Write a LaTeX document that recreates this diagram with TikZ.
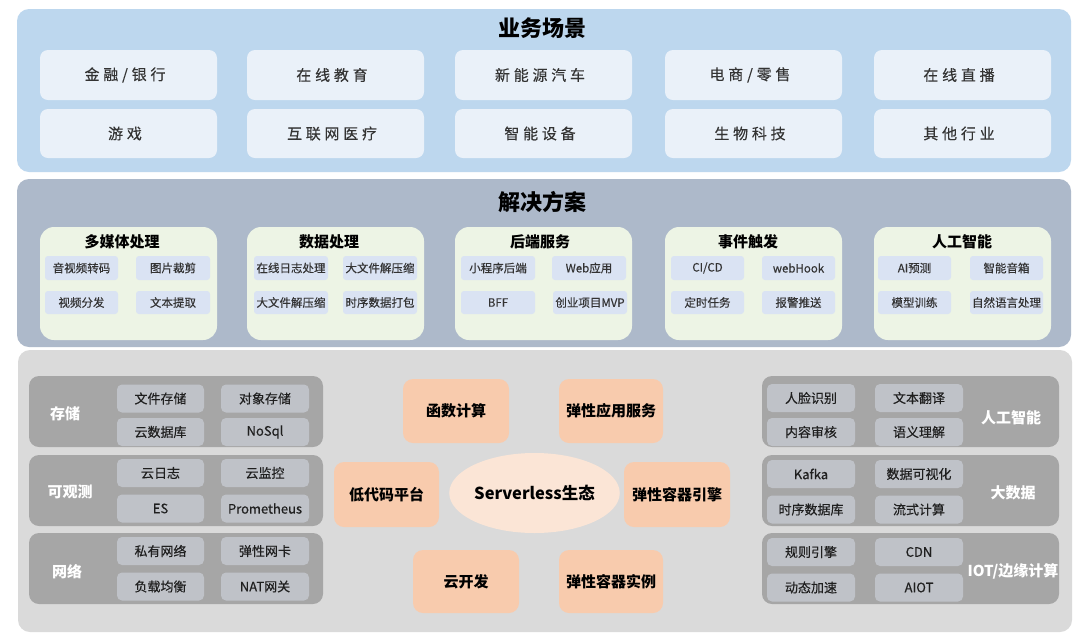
\documentclass[tikz,border=0pt]{standalone}
\usepackage{fontspec}
\setmainfont{Noto Sans CJK SC}
\newfontfamily\spacedfont{Noto Sans CJK SC}[LetterSpace=25,FakeBold=0.3]
\newfontfamily\medfont{Noto Sans CJK SC}[FakeBold=0.3]
\usetikzlibrary{shapes.geometric}
\definecolor{topbg}{HTML}{BDD7EE}
\definecolor{topbox}{HTML}{EAF1F9}
\definecolor{midbg}{HTML}{ADB9CA}
\definecolor{midpanel}{HTML}{EDF4E5}
\definecolor{midbox}{HTML}{DAE3F3}
\definecolor{botbg}{HTML}{DADADA}
\definecolor{grp}{HTML}{A6A6A6}
\definecolor{grpbox}{HTML}{BFC2C8}
\definecolor{orangebox}{HTML}{F8CBAD}
\definecolor{ellfill}{HTML}{FBE5D6}
\definecolor{txtdark}{HTML}{333333}
\definecolor{txtblk}{HTML}{1F1F1F}
\newcommand\tpad{\hspace*{7pt}}
\tikzset{
  bx/.style 2 args={rectangle, minimum width=#1pt, minimum height=#2pt, inner sep=0pt, outer sep=0pt},
  bigpanel/.style={rounded corners=12pt},
  topcell/.style={fill=topbox, rounded corners=8pt, text=txtdark, font=\spacedfont\fontsize{15}{15}\selectfont},
  title/.style={font=\bfseries\fontsize{22}{22}\selectfont, text=black},
  subpanel/.style={fill=midpanel, rounded corners=14pt},
  subtitle/.style={font=\bfseries\fontsize{15}{15}\selectfont, text=black},
  midcell/.style={fill=midbox, rounded corners=3pt, text=txtdark, font=\medfont\fontsize{11.5}{11.5}\selectfont},
  group/.style={fill=grp, rounded corners=10pt},
  grplabel/.style={text=white, font=\bfseries\fontsize{15}{15}\selectfont},
  grpcell/.style={fill=grpbox, rounded corners=5pt, text=txtblk, font=\medfont\fontsize{13}{13}\selectfont},
  eco/.style={fill=orangebox, rounded corners=10pt, text=black, font=\bfseries\fontsize{15}{15}\selectfont},
}
\begin{document}
\begin{tikzpicture}[x=1pt,y=-1pt]
\useasboundingbox (0,0) rectangle (1080,641);
\fill[white] (0,0) rectangle (1080,641);

% ---------- 业务场景 ----------
\node[bx={1054}{163}, bigpanel, fill=topbg] (toppanel) at (544,90.5) {};
\node[title] (toptitle) at (542,28) {业务场景};
\node[bx={177}{50}, topcell] (t11) at (128.5,75) {金融/银行\tpad};
\node[bx={177}{50}, topcell] (t12) at (335.5,75) {在线教育\tpad};
\node[bx={177}{50}, topcell] (t13) at (543.5,75) {新能源汽车\tpad};
\node[bx={177}{50}, topcell] (t14) at (753.5,75) {电商/零售\tpad};
\node[bx={177}{50}, topcell] (t15) at (962.5,75) {在线直播\tpad};
\node[bx={177}{49}, topcell] (t21) at (128.5,133.5) {游戏\tpad};
\node[bx={177}{49}, topcell] (t22) at (335.5,133.5) {互联网医疗\tpad};
\node[bx={177}{49}, topcell] (t23) at (543.5,133.5) {智能设备\tpad};
\node[bx={177}{49}, topcell] (t24) at (753.5,133.5) {生物科技\tpad};
\node[bx={177}{49}, topcell] (t25) at (962.5,133.5) {其他行业\tpad};

% ---------- 解决方案 ----------
\node[bx={1054}{168}, bigpanel, fill=midbg] (midpanel) at (544,263) {};
\node[title] (midtitle) at (542,202) {解决方案};

\node[bx={177}{113}, subpanel] (s1) at (128.5,283.5) {};
\node[subtitle] (s1t) at (122,242) {多媒体处理};
\node[bx={73}{24}, midcell] (s1a) at (81.5,268) {音视频转码};
\node[bx={74}{24}, midcell] (s1b) at (173,268) {图片裁剪};
\node[bx={73}{23}, midcell] (s1c) at (81.5,302.5) {视频分发};
\node[bx={74}{23}, midcell] (s1d) at (173,302.5) {文本提取};

\node[bx={177}{113}, subpanel] (s2) at (335.5,283.5) {};
\node[subtitle] (s2t) at (329,242) {数据处理};
\node[bx={74}{24}, midcell] (s2a) at (291,268) {在线日志处理};
\node[bx={74}{24}, midcell] (s2b) at (380,268) {大文件解压缩};
\node[bx={74}{23}, midcell] (s2c) at (291,302.5) {大文件解压缩};
\node[bx={74}{23}, midcell] (s2d) at (380,302.5) {时序数据打包};

\node[bx={177}{113}, subpanel] (s3) at (543.5,283.5) {};
\node[subtitle] (s3t) at (540,242) {后端服务};
\node[bx={74}{24}, midcell] (s3a) at (498,268) {小程序后端};
\node[bx={74}{24}, midcell] (s3b) at (589,268) {Web应用};
\node[bx={74}{23}, midcell] (s3c) at (498,302.5) {BFF};
\node[bx={74}{23}, midcell] (s3d) at (590,302.5) {创业项目MVP};

\node[bx={177}{113}, subpanel] (s4) at (753.5,283.5) {};
\node[subtitle] (s4t) at (748,242) {事件触发};
\node[bx={73}{24}, midcell] (s4a) at (707.5,268) {CI/CD};
\node[bx={73}{24}, midcell] (s4b) at (798.5,268) {webHook};
\node[bx={73}{23}, midcell] (s4c) at (707.5,302.5) {定时任务};
\node[bx={73}{23}, midcell] (s4d) at (798.5,302.5) {报警推送};

\node[bx={177}{113}, subpanel] (s5) at (962.5,283.5) {};
\node[subtitle] (s5t) at (962,242) {人工智能};
\node[bx={73}{24}, midcell] (s5a) at (914.5,268) {AI预测};
\node[bx={73}{24}, midcell] (s5b) at (1006.5,268) {智能音箱};
\node[bx={73}{23}, midcell] (s5c) at (914.5,302.5) {模型训练};
\node[bx={73}{23}, midcell] (s5d) at (1006.5,302.5) {自然语言处理};

% ---------- Serverless 生态 ----------
\node[bx={1054}{282}, bigpanel, fill=botbg] (botpanel) at (545,491) {};

% left groups
\node[bx={294}{71}, group] (g1) at (176,411.5) {};
\node[grplabel] (g1l) at (65,414) {存储};
\node[bx={87}{28}, grpcell] (g1a) at (160.5,398.5) {文件存储};
\node[bx={88}{28}, grpcell] (g1b) at (265,398.5) {对象存储};
\node[bx={87}{28}, grpcell] (g1c) at (160.5,432) {云数据库};
\node[bx={88}{28}, grpcell] (g1d) at (265,432) {NoSql};

\node[bx={294}{71}, group] (g2) at (176,490.5) {};
\node[grplabel] (g2l) at (70,492) {可观测};
\node[bx={87}{28}, grpcell] (g2a) at (160.5,473) {云日志};
\node[bx={88}{28}, grpcell] (g2b) at (265,473) {云监控};
\node[bx={87}{28}, grpcell] (g2c) at (160.5,508.5) {ES};
\node[bx={88}{28}, grpcell] (g2d) at (265,508.5) {Prometheus};

\node[bx={294}{71}, group] (g3) at (176,568.5) {};
\node[grplabel] (g3l) at (67,572) {网络};
\node[bx={87}{28}, grpcell] (g3a) at (160.5,551) {私有网络};
\node[bx={88}{28}, grpcell] (g3b) at (265,551) {弹性网卡};
\node[bx={87}{28}, grpcell] (g3c) at (160.5,586.5) {负载均衡};
\node[bx={88}{28}, grpcell] (g3d) at (265,586.5) {NAT网关};

% right groups
\node[bx={297}{71}, group] (r1) at (910.5,411.5) {};
\node[grplabel] (r1l) at (1011,418) {人工智能};
\node[bx={88}{28}, grpcell] (r1a) at (811,398) {人脸识别};
\node[bx={88}{28}, grpcell] (r1b) at (919,398) {文本翻译};
\node[bx={88}{28}, grpcell] (r1c) at (811,432) {内容审核};
\node[bx={88}{28}, grpcell] (r1d) at (919,432) {语义理解};

\node[bx={297}{71}, group] (r2) at (910.5,490.5) {};
\node[grplabel] (r2l) at (1013,493) {大数据};
\node[bx={88}{28}, grpcell] (r2a) at (811,474) {Kafka};
\node[bx={88}{28}, grpcell] (r2b) at (919,474) {数据可视化};
\node[bx={88}{28}, grpcell] (r2c) at (811,509.5) {时序数据库};
\node[bx={88}{28}, grpcell] (r2d) at (919,509.5) {流式计算};

\node[bx={297}{71}, group] (r3) at (910.5,568.5) {};
\node[grplabel] (r3l) at (1013,571) {IOT/边缘计算};
\node[bx={88}{28}, grpcell] (r3a) at (811,552) {规则引擎};
\node[bx={88}{28}, grpcell] (r3b) at (919,552) {CDN};
\node[bx={88}{28}, grpcell] (r3c) at (811,587.5) {动态加速};
\node[bx={88}{28}, grpcell] (r3d) at (919,587.5) {AIOT};

% center
\node[bx={106}{64}, eco] (fc) at (456,411) {函数计算};
\node[bx={104}{64}, eco] (sae) at (611,411) {弹性应用服务};
\node[bx={105}{65}, eco] (lowcode) at (386.5,494.5) {低代码平台};
\node[ellipse, minimum width=143pt, minimum height=80pt, inner sep=0pt, fill=ellfill, text=black, font=\bfseries\fontsize{16.5}{16.5}\selectfont] (eco) at (534.5,493) {Serverless生态};
\node[bx={106}{65}, eco] (engine) at (677,494.5) {弹性容器引擎};
\node[bx={106}{63}, eco] (clouddev) at (466,581.5) {云开发};
\node[bx={104}{63}, eco] (eci) at (611,581.5) {弹性容器实例};
\end{tikzpicture}
\end{document}
